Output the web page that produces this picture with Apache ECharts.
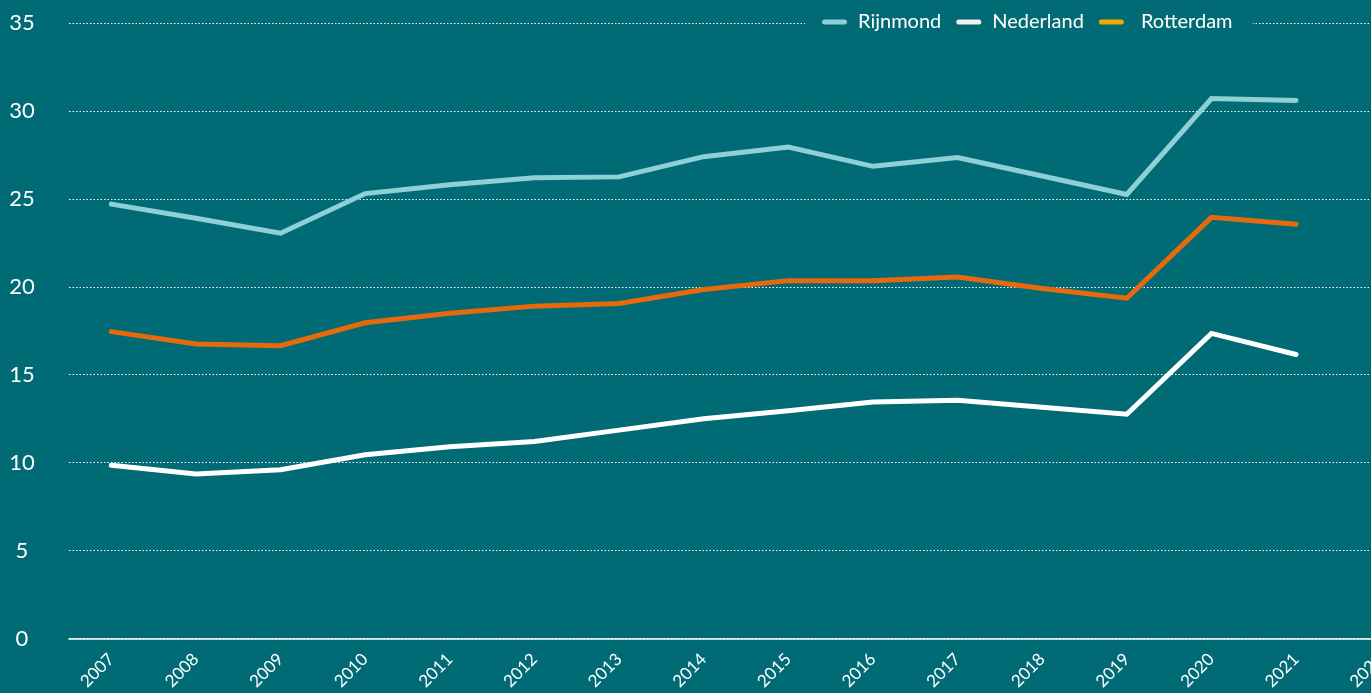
<!DOCTYPE html>
<html>
<head>
<meta charset="utf-8">
<script src="https://cdn.jsdelivr.net/npm/echarts@6/dist/echarts.min.js"></script>
<style>
html,body{margin:0;padding:0;background:#006b75;}
#chart{width:1371px;height:693px;}
</style>
</head>
<body>
<div id="chart"></div>
<script>
var years = ['2007','2008','2009','2010','2011','2012','2013','2014','2015','2016','2017','2018','2019','2020','2021','2022'];
var rijnmond = [24.7, 23.9, 23.05, 25.3, 25.8, 26.2, 26.25, 27.4, 27.95, 26.85, 27.35, 26.3, 25.25, 30.7, 30.6];
var nederland = [9.85, 9.35, 9.6, 10.45, 10.9, 11.2, 11.85, 12.5, 12.95, 13.45, 13.55, 13.15, 12.75, 17.35, 16.15];
var rotterdam = [17.45, 16.75, 16.65, 17.95, 18.5, 18.9, 19.05, 19.85, 20.35, 20.35, 20.55, 19.9, 19.35, 23.95, 23.55];
var yTicks = {min: 0, max: 35, interval: 5};

var BG = '#006b75';
var FONT = 'Lato, "Noto Sans", sans-serif';
var pill = 'path://M2.5,0 L22.5,0 A2.5,2.5 0 0 1 22.5,5 L2.5,5 A2.5,2.5 0 0 1 2.5,0 Z';

var chart = echarts.init(document.getElementById('chart'), null, {renderer: 'canvas'});
chart.setOption({
  backgroundColor: BG,
  animation: false,
  grid: {left: 69, width: 1354, top: 23, bottom: 54.5, containLabel: false, outerBoundsMode: 'none'},
  legend: {
    left: 805, top: 10,
    padding: [2, 20, 2, 17],
    backgroundColor: BG,
    icon: pill,
    itemWidth: 25, itemHeight: 5,
    itemGap: 15,
    textStyle: {color: '#ffffff', fontSize: 20, fontFamily: FONT, padding: [0, 0, 0, 6]},
    data: [
      {name: 'Rijnmond', itemStyle: {color: '#8fcfd6'}},
      {name: 'Nederland', itemStyle: {color: '#f2f2f2'}, textStyle: {padding: [0, 5, 0, 6]}},
      {name: 'Rotterdam', itemStyle: {color: '#f5a800'}, textStyle: {padding: [0, 0, 0, 12]}}
    ]
  },
  xAxis: {
    type: 'category',
    data: years,
    boundaryGap: true,
    axisLine: {show: true, lineStyle: {color: '#ffffff', width: 1.5}},
    axisTick: {show: false},
    axisLabel: {
      interval: 0, rotate: 45, margin: 18,
      color: '#ffffff', fontSize: 17, fontFamily: FONT
    },
    splitLine: {show: false}
  },
  yAxis: {
    type: 'value',
    min: yTicks.min, max: yTicks.max, interval: yTicks.interval,
    axisLine: {show: false},
    axisTick: {show: false},
    axisLabel: {color: '#ffffff', fontSize: 22, fontFamily: FONT, align: 'center', margin: 47},
    splitLine: {show: true, lineStyle: {color: '#ffffff', width: 1, type: [1.5, 2]}}
  },
  series: [
    {name: 'Rijnmond', type: 'line', data: rijnmond, symbol: 'none', color: '#8fcfd6',
     lineStyle: {width: 5, color: '#8fcfd6', cap: 'round', join: 'miter'}},
    {name: 'Nederland', type: 'line', data: nederland, symbol: 'none', color: '#ffffff',
     lineStyle: {width: 5, color: '#ffffff', cap: 'round', join: 'miter'}},
    {name: 'Rotterdam', type: 'line', data: rotterdam, symbol: 'none', color: '#e8690c',
     lineStyle: {width: 5, color: '#e8690c', cap: 'round', join: 'miter'}}
  ]
});
</script>
</body>
</html>
